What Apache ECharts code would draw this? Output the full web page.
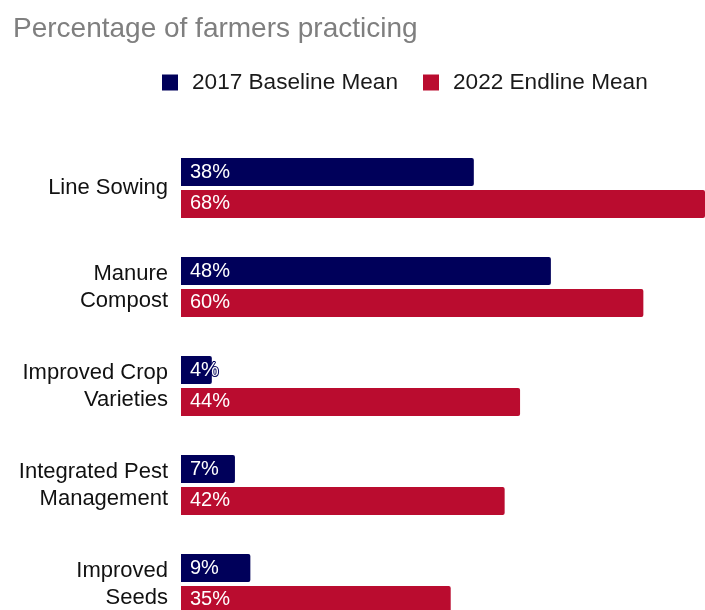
<!DOCTYPE html>
<html>
<head>
<meta charset="utf-8">
<script src="https://cdn.jsdelivr.net/npm/echarts@6/dist/echarts.min.js"></script>
<style>
  html, body { margin: 0; padding: 0; background: #ffffff; }
  #chart { width: 705px; height: 610px; }
</style>
</head>
<body>
<div id="chart"></div>
<script>
// Adoption of farming practices, share of farmers (%)
const practices = [
  'Line Sowing',
  'Manure\nCompost',
  'Improved Crop\nVarieties',
  'Integrated Pest\nManagement',
  'Improved\nSeeds'
];
const baseline2017 = [38, 48, 4, 7, 9];
const endline2022 = [68, 60, 44, 42, 35];
const seriesNames = ['2017 Baseline Mean', '2022 Endline Mean'];

const BLUE = '#00005a';
const RED = '#ba0c2f';
const FONT = '"Liberation Sans", Arial, sans-serif';

function barLabel(borderColor) {
  return {
    show: true,
    position: 'insideLeft',
    distance: 9,
    color: '#ffffff',
    fontFamily: FONT,
    fontSize: 20,
    textBorderColor: borderColor,
    textBorderWidth: 2,
    formatter: p => p.value + '%'
  };
}

const chart = echarts.init(document.getElementById('chart'), null, { renderer: 'canvas' });
chart.setOption({
  animation: false,
  backgroundColor: '#ffffff',
  title: {
    text: 'Percentage of farmers practicing',
    left: 8,
    top: 10,
    textStyle: { color: '#7f7f7f', fontFamily: FONT, fontSize: 28, fontWeight: 'normal' }
  },
  legend: {
    data: seriesNames,
    left: 157,
    top: 66,
    itemWidth: 16,
    itemHeight: 16,
    itemGap: 25,
    icon: 'rect',
    textStyle: { color: '#1a1a1a', fontFamily: FONT, fontSize: 22.6, padding: [0, 0, 0, 9] }
  },
  grid: {
    left: 181,
    right: 0,
    top: 138.5,
    height: 495,
    containLabel: false,
    outerBoundsMode: 'none'
  },
  xAxis: {
    type: 'value',
    min: 0,
    max: 68,
    show: false
  },
  yAxis: {
    type: 'category',
    data: practices,
    inverse: true,
    axisLine: { show: false },
    axisTick: { show: false },
    splitLine: { show: false },
    axisLabel: {
      color: '#111111',
      fontFamily: FONT,
      fontSize: 22,
      lineHeight: 27,
      margin: 13,
      align: 'right'
    }
  },
  series: [
    {
      name: seriesNames[0],
      type: 'bar',
      data: baseline2017,
      barWidth: 28,
      barGap: '14%',
      itemStyle: { color: BLUE, borderRadius: [0, 2, 2, 0] },
      label: barLabel(BLUE)
    },
    {
      name: seriesNames[1],
      type: 'bar',
      data: endline2022,
      barWidth: 28,
      itemStyle: { color: RED, borderRadius: [0, 2, 2, 0] },
      label: barLabel(RED)
    }
  ]
});
</script>
</body>
</html>
